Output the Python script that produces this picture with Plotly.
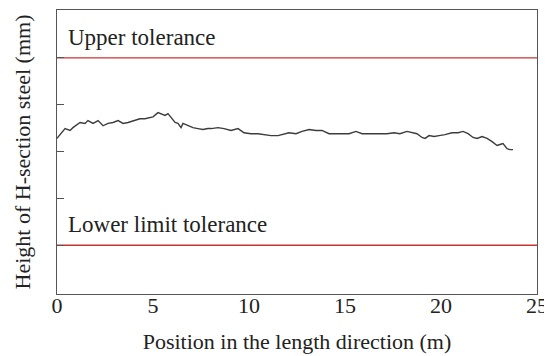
import plotly.graph_objects as go

# Measured profile (position in m, height in relative units: lower tol = 0, upper tol = 4)
pos_m = [0.00, 0.42, 0.68, 0.83, 1.20, 1.46, 1.61, 1.88, 2.14, 2.40, 2.66, 2.92, 3.18, 3.44, 3.70,
         3.96, 4.32, 4.58, 4.74, 5.00, 5.26, 5.42, 5.63, 5.78, 5.94, 6.15, 6.30, 6.46, 6.56, 6.82,
         7.08, 7.34, 7.60, 7.86, 8.02, 8.39, 8.70, 9.06, 9.43, 9.74, 10.10, 10.47, 10.78, 11.15,
         11.51, 11.82, 12.08, 12.45, 12.76, 13.13, 13.49, 13.80, 14.17, 14.53, 14.84, 15.21,
         15.57, 15.89, 16.15, 16.51, 16.82, 17.19, 17.55, 17.86, 18.23, 18.59, 18.75, 19.01,
         19.17, 19.38, 19.64, 19.90, 20.21, 20.57, 20.89, 21.15, 21.41, 21.67, 21.88, 22.14,
         22.40, 22.66, 22.92, 23.07, 23.23, 23.44, 23.59, 23.75]
height = [2.28, 2.49, 2.45, 2.51, 2.62, 2.60, 2.66, 2.60, 2.66, 2.55, 2.60, 2.62, 2.66, 2.60, 2.62,
          2.66, 2.70, 2.70, 2.72, 2.74, 2.83, 2.81, 2.77, 2.81, 2.72, 2.62, 2.60, 2.51, 2.60, 2.55,
          2.51, 2.49, 2.47, 2.49, 2.49, 2.51, 2.49, 2.45, 2.49, 2.40, 2.38, 2.38, 2.36, 2.34,
          2.34, 2.38, 2.40, 2.38, 2.43, 2.47, 2.45, 2.45, 2.38, 2.38, 2.38, 2.38,
          2.43, 2.38, 2.38, 2.38, 2.38, 2.38, 2.40, 2.38, 2.43, 2.40, 2.38, 2.30,
          2.28, 2.34, 2.32, 2.34, 2.36, 2.40, 2.40, 2.43, 2.38, 2.30, 2.28, 2.32,
          2.28, 2.21, 2.13, 2.15, 2.17, 2.06, 2.04, 2.04]

upper_tol = 4.0
lower_tol = 0.0
x_ticks = [0, 5, 10, 15, 20, 25]
y_ticks = [0, 1, 2, 3, 4]
x_range = [0, 25]
y_range = [-1.04, 5.02]

upper_label = "Upper tolerance"
lower_label = "Lower limit tolerance"
x_title = "Position in the length direction (m)"
y_title = "Height of H-section steel (mm)"

font_family = "Liberation Serif, Times New Roman, serif"

fig = go.Figure()
fig.add_trace(go.Scatter(x=x_range, y=[upper_tol, upper_tol], mode="lines",
                         line=dict(color="#cc3333", width=1.3), hoverinfo="skip"))
fig.add_trace(go.Scatter(x=x_range, y=[lower_tol, lower_tol], mode="lines",
                         line=dict(color="#cc3333", width=1.3), hoverinfo="skip"))
fig.add_trace(go.Scatter(x=pos_m, y=height, mode="lines",
                         line=dict(color="#3c3c3c", width=1.4)))

fig.add_annotation(x=0.47, y=4.43, text=upper_label, showarrow=False, xanchor="left",
                   yanchor="middle", font=dict(family=font_family, size=23, color="#222"))
fig.add_annotation(x=0.47, y=0.45, text=lower_label, showarrow=False, xanchor="left",
                   yanchor="middle", font=dict(family=font_family, size=23, color="#222"))

# page body has an 8px default margin, so the figure is sized to fill the rest of the window
fig.update_layout(
    width=544, height=348,
    margin=dict(l=49, r=15, t=2, b=62),
    paper_bgcolor="white", plot_bgcolor="white",
    showlegend=False,
    font=dict(family=font_family, size=22, color="#222"),
)
fig.update_xaxes(range=x_range, tickvals=x_ticks, ticks="", showgrid=False, zeroline=False,
                 showline=True, linecolor="#555", linewidth=1, mirror=True, automargin=False,
                 ticklabelstandoff=-8,
                 title=dict(text=x_title, standoff=16, font=dict(size=22)),
                 tickfont=dict(size=22))
fig.update_yaxes(range=y_range, tickvals=y_ticks, showticklabels=False, ticks="inside",
                 ticklen=7, tickcolor="#555", showgrid=False, zeroline=False, automargin=False,
                 showline=True, linecolor="#555", linewidth=1, mirror=True,
                 title=dict(text=y_title, standoff=19, font=dict(size=22)))

fig.write_html("out.html")
